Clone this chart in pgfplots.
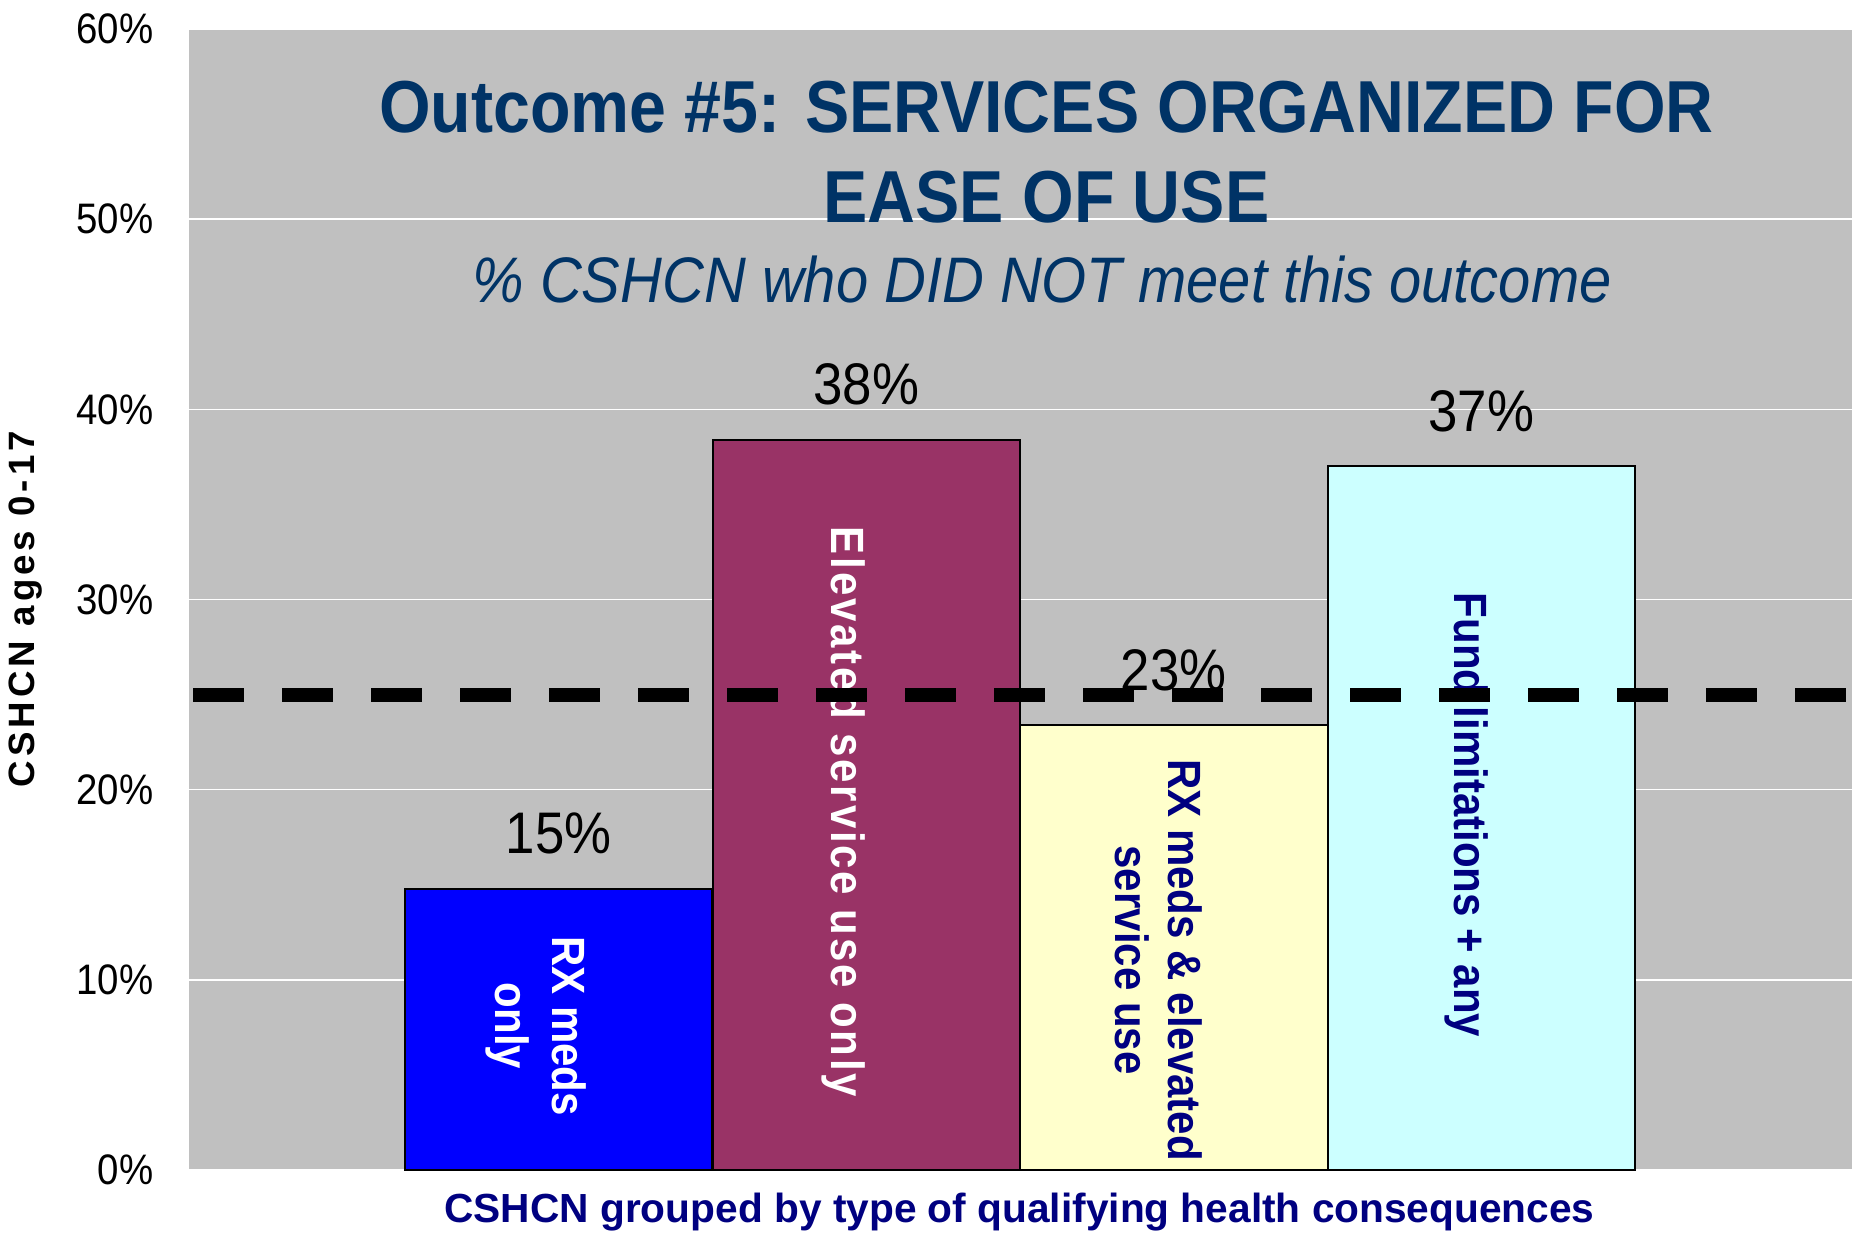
\documentclass[border=0pt]{standalone}
\usepackage{fontspec}
\setmainfont{Liberation Sans}[FakeStretch=0.9]
\newfontfamily\xlabfont{Liberation Sans}
\newfontfamily\ylabfont{Liberation Sans}[LetterSpace=11]
\newfontfamily\spacedfont{Liberation Sans}[FakeStretch=0.9,LetterSpace=6]
\usepackage{pgfplots}
\pgfplotsset{compat=1.18}
\definecolor{bggray}{HTML}{C0C0C0}
\definecolor{titleblue}{HTML}{003366}
\definecolor{navy}{HTML}{000080}
\definecolor{barA}{HTML}{0000FF}
\definecolor{barB}{HTML}{993366}
\definecolor{barC}{HTML}{FFFFCC}
\definecolor{barD}{HTML}{CCFFFF}
\pgfplotsset{
  mybar/.style={ybar, bar width=1, bar shift=0pt, draw=black, line width=0.6pt,
    nodes near coords={\pgfmathprintnumber[fixed,precision=0]{\pgfplotspointmeta}\%},
    every node near coord/.append style={font=\fontsize{17.6}{20}\selectfont, text=black, anchor=base, yshift=10.5pt, inner sep=0pt}},
}
\begin{document}
\begin{tikzpicture}
\begin{axis}[
  scale only axis, width=498.9pt, height=342.3pt,
  xmin=-1.2024, xmax=4.2057, ymin=0, ymax=60,
  ytick={0,10,...,60}, xtick=\empty,
  ymajorgrids, grid style={white, line width=0.45pt},
  axis line style={draw=none}, major tick length=0pt,
  axis background/.style={fill=bggray},
  /pgf/number format/assume math mode=true,
  yticklabel={\pgfmathprintnumber{\tick}\%},
  yticklabel style={font=\fontsize{12.8}{14}\selectfont, anchor=east, inner sep=0pt, xshift=-10.5pt},
  ylabel={CSHCN ages 0-17},
  ylabel style={font=\ylabfont\bfseries\fontsize{11}{12}\selectfont, at={(axis description cs:-0.0926,0.4917)}, anchor=base},
  xlabel={CSHCN grouped by type of qualifying health consequences},
  xlabel style={font=\xlabfont\bfseries\fontsize{12.2}{14}\selectfont, text=navy, at={(axis description cs:0.4994,-0.0456)}, anchor=base},
]
\addplot[mybar, fill=barA] coordinates {(0,14.8)};
\addplot[mybar, fill=barB] coordinates {(1,38.4)};
\addplot[mybar, fill=barC] coordinates {(2,23.4)};
\addplot[mybar, fill=barD] coordinates {(3,37.0)};

\node[rotate=-90, font=\bfseries\fontsize{14}{17}\selectfont, text=white, align=center] at (axis cs:-0.073,7.57) {RX meds\\only};
\node[rotate=-90, font=\spacedfont\bfseries\fontsize{14}{17}\selectfont, text=white, align=center] at (axis cs:0.927,18.83) {Elevated service use only};
\node[rotate=-90, font=\bfseries\fontsize{14}{16}\selectfont, text=navy, align=center] at (axis cs:1.951,11.04) {RX meds \& elevated\\service use};
\node[rotate=-90, font=\bfseries\fontsize{14}{17}\selectfont, text=navy, align=center] at (axis cs:2.951,18.67) {Fund limitations + any};

\node[font=\bfseries\fontsize{22.1}{27}\selectfont, text=titleblue, anchor=base] at (rel axis cs:0.5156,0.9089) {Outcome \#5: SERVICES ORGANIZED FOR};
\node[font=\bfseries\fontsize{22.1}{27}\selectfont, text=titleblue, anchor=base] at (rel axis cs:0.5156,0.830) {EASE OF USE};
\node[font=\itshape\fontsize{19.3}{22}\selectfont, text=titleblue, anchor=base] at (rel axis cs:0.513,0.7599) {\% CSHCN who DID NOT meet this outcome};

\addplot[black, line width=4.2pt, dash pattern=on 15.3pt off 11.4pt, dash phase=25.5pt] coordinates {(-1.2024,25) (4.2057,25)};
\end{axis}
\pgfresetboundingbox
\path ([xshift=-56.7pt,yshift=-18.6pt]current axis.south west) rectangle ([yshift=8.7pt]current axis.north east);
\end{tikzpicture}
\end{document}
